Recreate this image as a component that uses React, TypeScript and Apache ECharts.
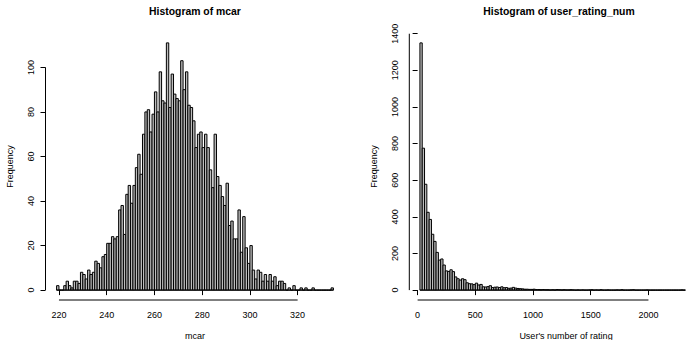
import React, { useEffect, useRef } from "react";
import * as echarts from "echarts";

// ---------- data ----------
const mcarBreakStart = 219;
const mcarBinWidth = 1;
const mcarCounts = [
  2, 0, 0, 2, 4, 2, 1, 4, 4, 3, 8, 7, 5, 9, 7, 8, 13, 12, 10, 15, 16, 21, 21, 24, 23, 24,
  36, 38, 25, 43, 47, 39, 47, 55, 61, 52, 70, 80, 81, 71, 79, 89, 80, 98, 85, 84, 111, 82,
  97, 88, 86, 85, 103, 90, 98, 83, 82, 76, 64, 70, 71, 64, 70, 64, 54, 46, 70, 51, 47, 42,
  38, 48, 29, 31, 23, 23, 36, 17, 33, 19, 12, 20, 9, 5, 9, 8, 4, 7, 4, 7, 4, 6, 2, 4, 4, 3,
  0, 1, 0, 2, 0, 0, 1, 0, 1, 0, 0, 1, 0, 0, 0, 0, 0, 0, 0, 1,
];
const mcarXTicks = [220, 240, 260, 280, 300, 320];
const mcarYTicks = [0, 20, 40, 60, 80, 100];

const userBreakStart = 20;
const userBinWidth = 20;
const userCounts = [
  1350, 775, 578, 425, 386, 305, 266, 206, 164, 170, 137, 105, 102, 111, 101, 72, 62, 55, 62,
  57, 40, 35, 34, 30, 38, 28, 31, 18, 17, 19, 24, 14, 16, 17, 14, 18, 13, 14, 10, 11, 15, 11,
  9, 8, 7, 5, 5, 4, 4, 5, 3, 3, 2, 3, 2, 2, 1, 2, 1, 3, 2, 1, 2, 1, 1, 2, 1, 0, 1, 0, 1, 0, 0,
  1, 2, 0, 1, 0, 2, 0, 0, 1, 0, 0, 0, 1, 0, 2, 0, 0, 0, 1, 2, 0, 0, 0, 0, 0, 1, 0, 0, 0, 0, 0,
  0, 0, 0, 0, 0, 0, 0, 0, 0, 1, 0,
];
const userXTicks = [0, 500, 1000, 1500, 2000];
const userYTicks = [0, 200, 400, 600, 800, 1000, 1200, 1400];

const titles = ["Histogram of mcar", "Histogram of user_rating_num"];
const xLabels = ["mcar", "User's number of rating"];
const yLabel = "Frequency";

// ---------- helpers ----------
const FONT = "'Liberation Sans', Arial, Helvetica, sans-serif";

function makeBins(start: number, width: number, counts: number[]) {
  return counts.map((c, i) => [start + i * width, start + (i + 1) * width, c]);
}
function rRange(lo: number, hi: number) {
  const d = (hi - lo) * 0.04;
  return [lo - d, hi + d];
}

function buildPanel(
  idx: number,
  start: number,
  width: number,
  counts: number[],
  xTicks: number[],
  yTicks: number[]
) {
  const bins = makeBins(start, width, counts);
  const end = start + counts.length * width;
  const [xMin, xMax] = rRange(start, end);
  const [yMin, yMax] = rRange(0, Math.max(...counts));
  const labelCommon = {
    color: "#000",
    fontSize: 9,
    fontFamily: FONT,
    formatter: (v: number) => String(v),
  };
  const tickCommon = {
    show: true,
    length: 5,
    lineStyle: { color: "#000", width: 1 },
  };
  const xAxis = {
    type: "value",
    gridIndex: idx,
    min: xMin,
    max: xMax,
    axisLine: { show: false },
    splitLine: { show: false },
    axisTick: { ...tickCommon, customValues: xTicks },
    axisLabel: { ...labelCommon, customValues: xTicks, margin: 10 },
  };
  const yAxis = {
    type: "value",
    gridIndex: idx,
    min: yMin,
    max: yMax,
    axisLine: { show: false },
    splitLine: { show: false },
    axisTick: { ...tickCommon, customValues: yTicks },
    axisLabel: { ...labelCommon, customValues: yTicks, rotate: 90, margin: 10 },
  };
  const series = {
    type: "custom",
    xAxisIndex: idx,
    yAxisIndex: idx,
    clip: false,
    data: bins,
    encode: { x: [0, 1], y: 2 },
    renderItem: (_params: any, api: any) => {
      const p0 = api.coord([api.value(0), api.value(2)]);
      const p1 = api.coord([api.value(1), 0]);
      return {
        type: "rect",
        shape: { x: p0[0], y: p0[1], width: p1[0] - p0[0], height: p1[1] - p0[1] },
        style: { fill: "#bdbdbd", stroke: "#000000", lineWidth: 1 },
      };
    },
  };
  const axisLines = { xMin, yMin, start, end, xTicks, yTicks };
  return { xAxis, yAxis, series, axisLines };
}

export default function App() {
  const ref = useRef<HTMLDivElement>(null);
  useEffect(() => {
    if (!ref.current) return;
    const chart = echarts.init(ref.current, undefined, { renderer: "svg" });
    const a = buildPanel(0, mcarBreakStart, mcarBinWidth, mcarCounts, mcarXTicks, mcarYTicks);
    const b = buildPanel(1, userBreakStart, userBinWidth, userCounts, userXTicks, userYTicks);
    const txt = (
      text: string,
      x: number,
      y: number,
      size: number,
      bold = false,
      rotation = 0
    ) => ({
      type: "text",
      x,
      y,
      rotation,
      silent: true,
      style: {
        text,
        fill: "#000",
        fontSize: size,
        fontWeight: bold ? "bold" : "normal",
        fontFamily: FONT,
        textAlign: "center",
        textVerticalAlign: "middle",
      },
    });
    chart.setOption({
      animation: false,
      backgroundColor: "#ffffff",
      grid: [
        { left: 45.5, top: 33, width: 299, height: 267 },
        { left: 409.3, top: 33, width: 299.3, height: 267 },
      ],
      xAxis: [a.xAxis, b.xAxis],
      yAxis: [a.yAxis, b.yAxis],
      series: [a.series, b.series],
      graphic: [
        txt(titles[0], 195, 11, 10.4, true),
        txt(titles[1], 559, 11, 10.4, true),
        txt(xLabels[0], 195, 335.5, 9),
        txt(xLabels[1], 566, 335.5, 9),
        txt(yLabel, 10, 166.5, 9, false, Math.PI / 2),
        txt(yLabel, 374, 166.5, 9, false, Math.PI / 2),
      ],
    });
    // axis lines (R style: spanning first to last tick) and zero baselines,
    // positioned through the chart's own scales
    const lines: any[] = [];
    [a, b].forEach((p, gi) => {
      const L = p.axisLines;
      const conv = (x: number, y: number) =>
        chart.convertToPixel({ gridIndex: gi } as any, [x, y]) as number[];
      const segs = [
        [conv(L.xTicks[0], L.yMin), conv(L.xTicks[L.xTicks.length - 1], L.yMin)],
        [conv(L.xMin, L.yTicks[0]), conv(L.xMin, L.yTicks[L.yTicks.length - 1])],
        [conv(L.start, 0), conv(L.end, 0)],
      ];
      segs.forEach(([s, e]) => {
        lines.push({
          type: "line",
          silent: true,
          z: 10,
          shape: { x1: s[0], y1: s[1], x2: e[0], y2: e[1] },
          style: { stroke: "#000", lineWidth: 1 },
        });
      });
    });
    chart.setOption({
      graphic: [
        txt(titles[0], 195, 11, 10.4, true),
        txt(titles[1], 559, 11, 10.4, true),
        txt(xLabels[0], 195, 335.5, 9),
        txt(xLabels[1], 566, 335.5, 9),
        txt(yLabel, 10, 166.5, 9, false, Math.PI / 2),
        txt(yLabel, 374, 166.5, 9, false, Math.PI / 2),
        ...lines,
      ],
    });
    return () => chart.dispose();
  }, []);
  return (
    <div
      ref={ref}
      style={{ position: "fixed", left: 0, top: 0, width: 696, height: 340 }}
    />
  );
}
